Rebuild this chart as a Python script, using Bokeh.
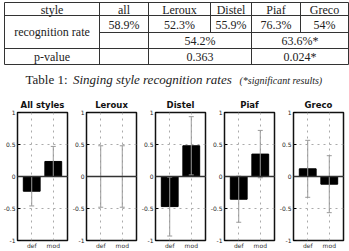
from bokeh.plotting import figure
from bokeh.models import (Range1d, FactorRange, ColumnDataSource, Whisker, TeeHead,
                          Span, FixedTicker)
from bokeh.layouts import column, row
from bokeh.embed import file_html
from bokeh.resources import INLINE
from bokeh.core.properties import value

# ---------------- table data ----------------
header = ["style", "all", "Leroux", "Distel", "Piaf", "Greco"]
rate_label = "recognition rate"
rates = ["58.9%", "52.3%", "55.9%", "76.3%", "54%"]
group_rates = ["54.2%", "63.6%*"]
p_label = "p-value"
p_values = ["0.363", "0.024*"]
caption_label = "Table 1:"
caption_text = "Singing style recognition rates"
caption_note = "(*significant results)"

# ---------------- chart data ----------------
styles = ["All styles", "Leroux", "Distel", "Piaf", "Greco"]
conditions = ["def", "mod"]
means = [[-0.23, 0.235], [0.0, 0.0], [-0.47, 0.48], [-0.355, 0.35], [0.12, -0.12]]
errors = [[0.23, 0.235], [0.48, 0.48], [0.46, 0.455], [0.36, 0.37], [0.445, 0.445]]
y_ticks = [-1, -0.5, 0, 0.5, 1]
y_tick_labels = ["-1", "-0.5", "0", "0.5", "1"]

# ---------------- table figure ----------------
SERIF = value("Liberation Serif")
TW, TH = 349, 95
tab = figure(width=TW, height=TH, x_range=Range1d(0, TW), y_range=Range1d(TH, 0),
             x_axis_type=None, y_axis_type=None, toolbar_location=None,
             output_backend="svg", min_border=0, outline_line_color=None)

col_edges = [4, 99, 148, 210, 251, 300, 348]
row_edges = [2, 15, 32, 48, 64]
line_col = "#333333"

# horizontal rules
hx0 = [col_edges[0], col_edges[0], col_edges[1], col_edges[0], col_edges[0]]
hx1 = [col_edges[-1]] * 5
tab.segment(x0=hx0, y0=row_edges, x1=hx1, y1=row_edges, line_color=line_col, line_width=1)
# vertical rules
full = [col_edges[i] for i in (0, 1, 2, 4, 6)]
tab.segment(x0=full, y0=[row_edges[0]] * len(full), x1=full, y1=[row_edges[-1]] * len(full),
            line_color=line_col, line_width=1)
part = [col_edges[3], col_edges[5]]
tab.segment(x0=part, y0=[row_edges[0]] * 2, x1=part, y1=[row_edges[2]] * 2,
            line_color=line_col, line_width=1)

mid = lambda a, b: (a + b) / 2.0
col_centers = [mid(col_edges[i], col_edges[i + 1]) for i in range(6)]
row_centers = [mid(row_edges[i], row_edges[i + 1]) for i in range(4)]
tstyle = dict(text_font=SERIF, text_font_size="12px", text_color="#222222",
              text_align="center", text_baseline="middle")

tab.text(x=col_centers, y=[row_centers[0] + 0.5] * 6, text=header, **tstyle)
tab.text(x=[col_centers[0]], y=[mid(row_edges[1], row_edges[3])], text=[rate_label], **tstyle)
tab.text(x=col_centers[1:], y=[row_centers[1] + 0.5] * 5, text=rates, **tstyle)
grp_x = [mid(col_edges[2], col_edges[4]), mid(col_edges[4], col_edges[6])]
tab.text(x=grp_x, y=[row_centers[2] + 0.5] * 2, text=group_rates, **tstyle)
tab.text(x=[col_centers[0]], y=[row_centers[3] + 0.5], text=[p_label], **tstyle)
tab.text(x=grp_x, y=[row_centers[3] + 0.5] * 2, text=p_values, **tstyle)

cap_y = 79
tab.text(x=[25], y=[cap_y], text=[caption_label], text_font=SERIF, text_font_size="13px",
         text_color="#222222", text_align="left", text_baseline="middle")
tab.text(x=[72.5], y=[cap_y], text=[caption_text], text_font=SERIF, text_font_size="13px",
         text_font_style="italic", text_color="#222222", text_align="left",
         text_baseline="middle")
tab.text(x=[239], y=[cap_y + 0.5], text=[caption_note], text_font=SERIF, text_font_size="10px",
         text_font_style="italic", text_color="#222222", text_align="left",
         text_baseline="middle")

# ---------------- bar subplots ----------------
SANS = "DejaVu Sans"
figs = []
for i, name in enumerate(styles):
    upper = [m + e for m, e in zip(means[i], errors[i])]
    lower = [m - e for m, e in zip(means[i], errors[i])]
    src = ColumnDataSource(dict(x=conditions, top=means[i], upper=upper, lower=lower))
    p = figure(width=69, height=156,
               x_range=FactorRange(*conditions, range_padding=0.16,
                                   range_padding_units="absolute"),
               y_range=Range1d(-1, 1), toolbar_location=None, output_backend="svg",
               title=name, min_border_left=15, min_border_right=2,
               min_border_top=15, min_border_bottom=10)
    p.title.align = "center"
    p.title.text_font = SANS
    p.title.text_font_size = "8.5px"
    p.title.text_font_style = "bold"
    p.title.text_color = "#111111"
    p.title.standoff = 5
    p.title.offset = 0

    p.vbar(x="x", top="top", bottom=0, width=0.78, source=src,
           fill_color="black", line_color="black")
    w = Whisker(base="x", upper="upper", lower="lower", source=src,
                line_color="#9a9a9a", line_width=1, level="overlay",
                upper_head=TeeHead(size=5, line_color="#9a9a9a", line_width=1),
                lower_head=TeeHead(size=5, line_color="#9a9a9a", line_width=1))
    p.add_layout(w)
    p.add_layout(Span(location=0, dimension="width", line_color="#333333",
                      line_width=1.5, level="overlay"))

    p.outline_line_color = "#111111"
    p.outline_line_width = 1.5

    p.yaxis.ticker = FixedTicker(ticks=y_ticks)
    p.yaxis.major_label_overrides = dict(zip(y_ticks, y_tick_labels))
    p.yaxis.major_label_text_font = SANS
    p.yaxis.major_label_text_font_size = "6px"
    p.yaxis.major_label_text_color = "#222222"
    p.yaxis.major_label_standoff = 2
    p.yaxis.major_tick_in = 3
    p.yaxis.major_tick_out = 0
    p.yaxis.minor_tick_line_color = None
    p.yaxis.axis_line_color = None

    p.xaxis.major_label_text_font = SANS
    p.xaxis.major_label_text_font_size = "6px"
    p.xaxis.major_label_text_color = "#333333"
    p.xaxis.major_label_standoff = 1
    p.xaxis.major_tick_in = 0
    p.xaxis.major_tick_out = 0
    p.xaxis.axis_line_color = None

    p.xgrid.grid_line_color = "#aaaaaa"
    p.xgrid.grid_line_dash = "dotted"
    p.ygrid.grid_line_color = "#aaaaaa"
    p.ygrid.grid_line_dash = "dotted"
    p.background_fill_color = "white"
    p.border_fill_color = "white"
    figs.append(p)

layout = column(tab, row(*figs, spacing=0), spacing=0)
open("out.html", "w").write(file_html(layout, INLINE))
